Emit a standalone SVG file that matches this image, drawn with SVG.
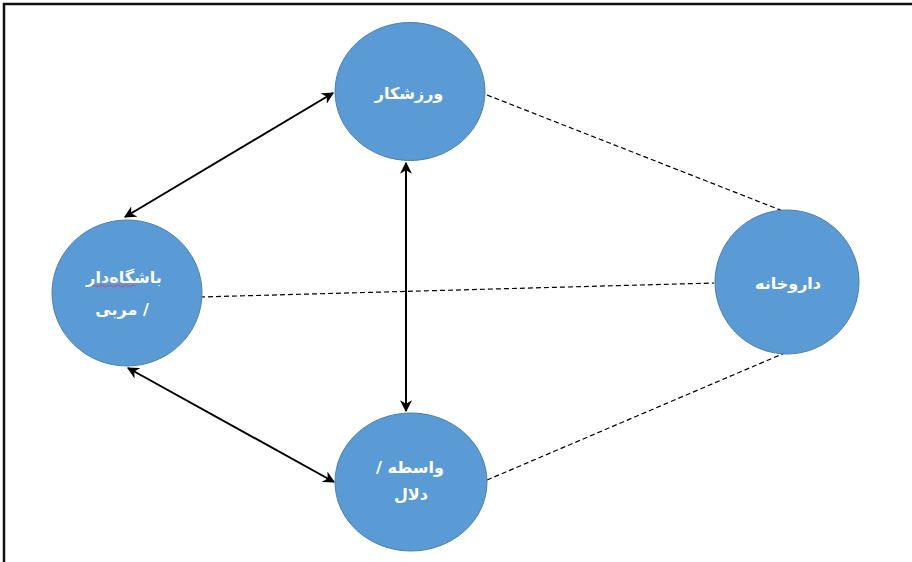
<svg xmlns="http://www.w3.org/2000/svg" width="912" height="562" viewBox="0 0 912 562">
<style>
.node{fill:#5b9bd5;stroke:#4a7fb0;stroke-width:1}
.lbl{font-family:"DejaVu Sans","Noto Sans",sans-serif;font-weight:bold;font-size:16px;fill:#ffffff;text-anchor:middle}
.solid{stroke:#000;stroke-width:2;fill:none;marker-start:url(#ah);marker-end:url(#ah)}
.dash{stroke:#000;stroke-width:1.2;fill:none;stroke-dasharray:5 3}
</style>
<defs>
<marker id="ah" viewBox="0 0 10 10" refX="9" refY="5" markerWidth="6" markerHeight="6" orient="auto-start-reverse" markerUnits="strokeWidth">
<path d="M0,0 L10,5 L0,10 L3,5 z" fill="#000"/>
</marker>
</defs>
<rect width="912" height="562" fill="#fff"/>
<path d="M4,562 V4 H912" fill="none" stroke="#111" stroke-width="2.5"/>
<g id="connectors">
<line class="solid" x1="125" y1="217" x2="333" y2="93"/>
<line class="solid" x1="128" y1="368" x2="334" y2="482"/>
<line class="solid" x1="406" y1="163" x2="406" y2="411"/>
<line class="dash" x1="487" y1="95" x2="788" y2="213"/>
<line class="dash" x1="200" y1="297" x2="714" y2="283"/>
<line class="dash" x1="487" y1="480" x2="787" y2="352"/>
</g>
<g id="n-athlete">
<ellipse class="node" cx="410" cy="91.5" rx="75" ry="69"/>
<text class="lbl" x="409" y="99">ورزشکار</text>
</g>
<g id="n-club">
<ellipse class="node" cx="127" cy="293" rx="75" ry="73"/>
<text class="lbl" x="124" y="283">باشگاه‌دار</text>
<path d="M92,286 q2,-2 4,0 t4,0 t4,0 t4,0 t4,0 t4,0 t4,0 t4,0 t4,0 t4,0 t4,0" fill="none" stroke="#d0437a" stroke-width="1"/>
<text class="lbl" x="122" y="315">مربی /</text>
</g>
<g id="n-broker">
<ellipse class="node" cx="411" cy="482" rx="76" ry="69"/>
<text class="lbl" x="410" y="473">/ واسطه</text>
<text class="lbl" x="411" y="500">دلال</text>
</g>
<g id="n-pharmacy">
<ellipse class="node" cx="787" cy="282" rx="72" ry="72"/>
<text class="lbl" x="788" y="289">داروخانه</text>
</g>
</svg>
